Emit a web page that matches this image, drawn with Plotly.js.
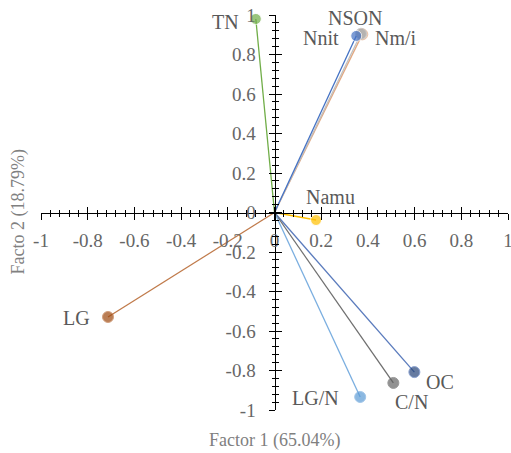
<!DOCTYPE html>
<html>
<head>
<meta charset="utf-8">
<script src="https://cdn.plot.ly/plotly-3.0.1.min.js"></script>
<style>html,body{margin:0;padding:0;background:#fff;}#chart{width:511px;height:453px;}</style>
</head>
<body>
<div id="chart"></div>
<script>
// Variable names
var names   = ['Nm/i', 'NSON', 'Nnit', 'TN', 'Namu', 'LG', 'OC', 'C/N', 'LG/N'];
// Factor 1 loadings
var factor1 = [0.376, 0.37, 0.35, -0.08, 0.178, -0.713, 0.599, 0.509, 0.367];
// Factor 2 loadings
var factor2 = [0.902, 0.905, 0.894, 0.98, -0.038, -0.529, -0.808, -0.863, -0.934];
// Tick values
var tickVals = [-1, -0.8, -0.6, -0.4, -0.2, 0, 0.2, 0.4, 0.6, 0.8, 1];
var tickText = ['-1', '-0.8', '-0.6', '-0.4', '-0.2', '0', '0.2', '0.4', '0.6', '0.8', '1'];

var markerColors = ['#d0c4bc', '#a5a5a5', '#4472c4', '#70ad47', '#ffc000', '#9e480e', '#264478', '#636363', '#5b9bd5'];
var lineColors   = ['#e3a77f', '#c0c0c0', '#4472c4', '#70ad47', '#ffc000', '#c07a4a', '#5a7bbd', '#6f6f6f', '#7aaee0'];
// label offsets in pixels (dx right, dy down)
var labelDx = [34, -6, -35, -30, 14, -32, 26, 18, -45];
var labelDy = [4, -16, 2, 3, -23, 1, 10, 19, 1];

var serif = "Liberation Serif";

var traces = names.map(function (n, i) {
  return {
    type: 'scatter',
    x: [0, factor1[i]],
    y: [0, factor2[i]],
    mode: 'lines+markers',
    line: {color: lineColors[i], width: 1.3},
    marker: {color: markerColors[i], size: [0, 11]},
    cliponaxis: false,
    hoverinfo: 'skip',
    showlegend: false
  };
});
// empty trace on overlay axes
traces.push({type: 'scatter', x: [0], y: [0], xaxis: 'x2', yaxis: 'y2', mode: 'markers', marker: {size: 0, opacity: 0}, showlegend: false, hoverinfo: 'skip'});

var labelAnns = names.map(function (n, i) {
  return {
    text: n, x: factor1[i], y: factor2[i], xref: 'x', yref: 'y',
    xshift: labelDx[i], yshift: -labelDy[i],
    xanchor: 'center', yanchor: 'middle', showarrow: false,
    font: {family: serif, size: 20, color: '#595959'}
  };
});

function axisBase() {
  return {
    range: [-1, 1],
    tickmode: 'array',
    tickvals: tickVals.slice(),
    ticktext: tickText.slice(),
    showgrid: false,
    zeroline: false,
    showline: true,
    linecolor: '#000',
    linewidth: 1,
    tickcolor: '#000',
    ticklen: 6,
    tickwidth: 1,
    ticklabeloverflow: 'allow',
    tickfont: {family: 'Liberation Serif, serif', size: 19, color: '#666666', weight: 'normal'},
    fixedrange: true
  };
}

var layout = {
  width: 511,
  height: 453,
  font: {family: 'Liberation Serif, serif', size: 19},
  margin: {l: 41, r: 3, t: 15, b: 43},
  paper_bgcolor: '#fff',
  plot_bgcolor: '#fff',
  xaxis: Object.assign(axisBase(), {
    anchor: 'free', position: 0.5, ticks: 'outside', ticklabelstandoff: 5,
    minor: {dtick: 0.04, ticks: 'outside', ticklen: 3, tickcolor: '#000', showgrid: false}
  }),
  yaxis: Object.assign(axisBase(), {
    anchor: 'free', position: 0.5, ticks: 'outside', ticklabelstandoff: 9,
    minor: {dtick: 0.04, ticks: 'outside', ticklen: 3, tickcolor: '#000', showgrid: false}
  }),
  xaxis2: Object.assign(axisBase(), {
    overlaying: 'x', anchor: 'free', position: 0.5, ticks: 'inside', showticklabels: false,
    minor: {dtick: 0.04, ticks: 'inside', ticklen: 3, tickcolor: '#000', showgrid: false}
  }),
  yaxis2: Object.assign(axisBase(), {
    overlaying: 'y', anchor: 'free', position: 0.5, ticks: 'inside', showticklabels: false,
    minor: {dtick: 0.04, ticks: 'inside', ticklen: 3, tickcolor: '#000', showgrid: false}
  }),
  annotations: labelAnns.concat([
    {text: 'Factor 1 (65.04%)', xref: 'paper', yref: 'paper', x: 0.5, y: 0, yshift: -30, xanchor: 'center', yanchor: 'middle', showarrow: false,
     font: {family: serif, size: 18, color: '#808080'}},
    {text: 'Facto 2 (18.79%)', xref: 'paper', yref: 'paper', x: 0, y: 0.5, xshift: -23, xanchor: 'center', yanchor: 'middle', textangle: -90, showarrow: false,
     font: {family: serif, size: 18, color: '#808080'}}
  ])
};

Plotly.newPlot('chart', traces, layout, {displayModeBar: false, staticPlot: true});
</script>
</body>
</html>
